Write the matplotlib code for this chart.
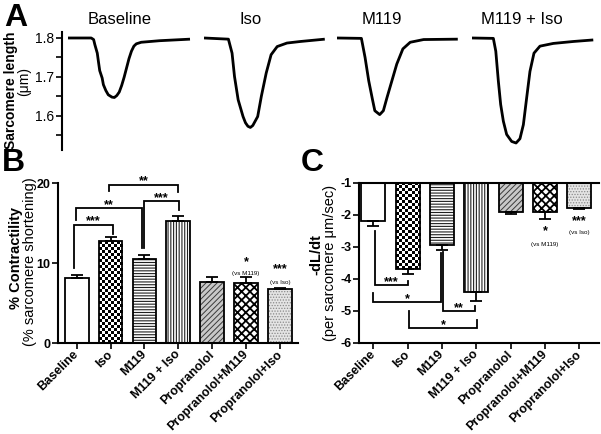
import numpy as np
import matplotlib.pyplot as plt

plt.rcParams['font.family'] = ['Liberation Sans', 'DejaVu Sans']

# ----- data: panel A, sarcomere length traces (time in s, length in um) -----
trace_names = ["Baseline", "Iso", "M119", "M119 + Iso"]

baseline_t = [0.0, 0.19, 0.21, 0.22, 0.24, 0.25, 0.26, 0.28, 0.29, 0.31, 0.33, 0.36, 0.38,
              0.40, 0.42, 0.44, 0.46, 0.48, 0.50, 0.52, 0.54, 0.56, 0.60, 0.75, 1.0]
baseline_len = [1.800, 1.800, 1.796, 1.783, 1.761, 1.738, 1.716, 1.697, 1.680, 1.665, 1.654,
                1.648, 1.647, 1.652, 1.661, 1.678, 1.699, 1.723, 1.747, 1.766, 1.779, 1.785,
                1.789, 1.793, 1.797]

iso_t = [0.0, 0.20, 0.23, 0.25, 0.28, 0.32, 0.34, 0.36, 0.38, 0.40, 0.44, 0.47, 0.51, 0.55,
         0.60, 0.68, 0.79, 0.99]
iso_len = [1.800, 1.797, 1.761, 1.701, 1.641, 1.598, 1.582, 1.573, 1.570, 1.575, 1.598, 1.650,
           1.710, 1.757, 1.778, 1.787, 1.791, 1.797]

m119_t = [0.0, 0.20, 0.23, 0.26, 0.29, 0.31, 0.35, 0.38, 0.41, 0.45, 0.49, 0.54, 0.60, 0.71, 0.99]
m119_len = [1.800, 1.799, 1.750, 1.690, 1.643, 1.613, 1.603, 1.613, 1.647, 1.690, 1.733, 1.772,
            1.789, 1.796, 1.797]

m119iso_t = [0.0, 0.175, 0.195, 0.216, 0.235, 0.257, 0.284, 0.325, 0.361, 0.393, 0.421, 0.448,
             0.475, 0.508, 0.557, 0.666, 0.830, 0.994]
m119iso_len = [1.800, 1.799, 1.766, 1.689, 1.629, 1.586, 1.552, 1.534, 1.530, 1.541, 1.577,
               1.646, 1.714, 1.761, 1.779, 1.786, 1.791, 1.795]

traces = [(baseline_t, baseline_len), (iso_t, iso_len), (m119_t, m119_len),
          (m119iso_t, m119iso_len)]

# ----- data: panels B and C -----
groups = ["Baseline", "Iso", "M119", "M119 + Iso", "Propranolol",
          "Propranolol+M119", "Propranolol+Iso"]
contract_mean = [8.1, 12.7, 10.5, 15.2, 7.6, 7.5, 6.7]
contract_sem = [0.4, 0.5, 0.5, 0.7, 0.7, 0.75, 0.2]
dldt_mean = [-2.20, -3.70, -2.93, -4.42, -1.91, -1.90, -1.79]
dldt_sem = [0.13, 0.14, 0.16, 0.27, 0.06, 0.24, 0.03]

# brackets: (left group, right group, left leg end, right leg end, bar level, label)
brackets_b = [(0, 1, 9.35, 13.6, 14.8, "***"),
              (0, 2, 15.4, 11.9, 16.9, "**"),
              (2, 3, 11.9, 16.6, 17.7, "***"),
              (1, 3, 19.0, 18.9, 19.8, "**")]
brackets_c = [(0, 1, -2.5, -4.07, -4.19, "***"),
              (0, 2, -4.45, -3.19, -4.71, "*"),
              (2, 3, -3.16, -4.85, -5.0, "**"),
              (1, 3, -5.0, -5.29, -5.53, "*")]
# small horizontal nudges of the bracket legs (layout only)
nudge_b = [(-0.08, 0.07), (-0.03, -0.08), (-0.01, 0.03), (-0.05, 0.0)]
nudge_c = [(0.04, 0.0), (-0.01, -0.03), (0.04, -0.04), (0.03, 0.02)]

# stars vs M119 / Iso over the propranolol bars: (group, star level, note level, stars, note)
notes_b = [(5, 10.6, 8.65, "*", "(vs M119)"), (6, 9.7, 7.6, "***", "(vs Iso)")]
notes_c = [(5, -2.39, -2.93, "*", "(vs M119)"), (6, -2.07, -2.54, "***", "(vs Iso)")]

# ----- styles -----
bar_styles = [
    dict(face="white", hatch=None, hc="black", hlw=1.0, checker=False),
    dict(face="white", hatch=None, hc="black", hlw=1.0, checker=True),
    dict(face="white", hatch="------", hc="#202020", hlw=0.8, checker=False),
    dict(face="white", hatch="||||||", hc="#202020", hlw=0.8, checker=False),
    dict(face="#c8c8c8", hatch="//////", hc="#3a3a3a", hlw=0.7, checker=False),
    dict(face="white", hatch="xxxx", hc="black", hlw=1.3, checker=False),
    dict(face="#e4e4e4", hatch="......", hc="#8a8a8a", hlw=0.6, checker=False),
]
W, H = 601, 434
LW = 1.3


def frac(left, top, right, bottom):
    return [left / W, 1 - bottom / H, (right - left) / W, (bottom - top) / H]


fig = plt.figure(figsize=(W / 100, H / 100), dpi=100)

# ----- panel A -----
trace_px = [(62, 193, 68), (204, 329, 204), (337, 462, 337), (472, 597, 472)]
title_px = [120, 251, 382, 522]
for k, ((t, L), (l, r, s)) in enumerate(zip(traces, trace_px)):
    ax = fig.add_axes(frac(l, 32, r, 150))
    ax.plot(t, L, color="black", lw=2.0, solid_joinstyle="round", solid_capstyle="butt")
    ax.set_xlim((l - s) / 122, (r - s) / 122)
    ax.set_ylim(1.512, 1.8154)
    for sp in ax.spines.values():
        sp.set_visible(False)
    ax.set_xticks([])
    if k == 0:
        ax.spines["left"].set_visible(True)
        ax.spines["left"].set_linewidth(1.5)
        ax.set_yticks([1.6, 1.7, 1.8])
        ax.set_yticks([1.55, 1.65, 1.75], minor=True)
        ax.tick_params(axis="y", which="both", length=4, width=1.2, labelsize=10, pad=2)
    else:
        ax.set_yticks([])
    fig.text(title_px[k] / W, 1 - 20 / H, trace_names[k], ha="center", va="center",
             fontsize=12)

fig.text(11 / W, 1 - 90 / H, "Sarcomere length", rotation=90, ha="center", va="center",
         fontsize=10, fontweight="bold")
fig.text(24 / W, 1 - 81 / H, "(\u03bcm)", rotation=90, ha="center", va="center",
         fontsize=10)


# ----- panels B and C -----
def draw_bars(ax, means, sems, base, down):
    x = np.arange(len(means))
    heights = np.array(means) - base
    for i in range(len(means)):
        st = bar_styles[i]
        with plt.rc_context({"hatch.linewidth": st["hlw"]}):
            b = ax.bar(x[i], heights[i], width=0.7, bottom=base, color=st["face"],
                       edgecolor=st["hc"], hatch=st["hatch"], linewidth=0, zorder=1)
        rect = b.patches[0]
        if hasattr(rect, "set_hatch_linewidth"):
            rect.set_hatch_linewidth(st["hlw"])
        if st["checker"]:
            p0 = ax.transData.transform((0, 0))
            p1 = ax.transData.transform((1, 1))
            nx = 8
            ny = max(1, int(round(abs(heights[i] * (p1[1] - p0[1])) / 3.0)))
            board = np.indices((ny, nx)).sum(axis=0) % 2
            x0 = rect.get_x()
            im = ax.imshow(board, cmap="gray", extent=(x0, x0 + 0.7, base, base + heights[i]),
                           aspect="auto", interpolation="nearest", zorder=1.5)
            im.set_clip_path(rect)
    ax.bar(x, heights, width=0.7, bottom=base, fill=False, edgecolor="black",
           linewidth=LW, zorder=3)
    zeros = np.zeros(len(sems))
    yerr = [sems, zeros] if down else [zeros, sems]
    ax.errorbar(x, means, yerr=yerr, fmt="none", ecolor="black", elinewidth=LW,
                capsize=4.3, capthick=LW, zorder=4)


def draw_brackets(ax, brackets, nudges):
    for (i, j, yl, yr, yline, lab), (dl, dr) in zip(brackets, nudges):
        xl, xr = i + dl, j + dr
        ax.plot([xl, xl, xr, xr], [yl, yline, yline, yr], color="black", lw=LW,
                clip_on=False, solid_joinstyle="miter", zorder=5)
        ax.text((xl + xr) / 2, yline, lab, ha="center", va="baseline", fontsize=9,
                fontweight="bold", zorder=5)


def draw_notes(ax, notes):
    for i, ystar, ynote, stars, note in notes:
        ax.annotate(stars, (i, ystar), xytext=(0, -3), textcoords="offset points",
                    ha="center", va="center", fontsize=9, fontweight="bold")
        ax.text(i, ynote, note, ha="center", va="center", fontsize=4.5)


def style_axes(ax):
    ax.set_xticks(range(len(groups)))
    ax.set_xticklabels(groups, rotation=45, ha="right", va="center",
                       rotation_mode="anchor", fontweight="bold", fontsize=9)
    ax.tick_params(axis="x", length=4, width=1.2, pad=3)
    ax.tick_params(axis="y", length=4, width=1.2, pad=1.5, labelsize=9)
    for lab in ax.get_yticklabels():
        lab.set_fontweight("bold")
    ax.spines["right"].set_visible(False)
    for sp in ax.spines.values():
        sp.set_linewidth(1.5)


# B
axb = fig.add_axes(frac(58, 183, 298, 343))
axb.set_xlim(-0.55, 6.53)
axb.set_ylim(0, 20)
axb.set_yticks([0, 10, 20])
axb.spines["top"].set_visible(False)
draw_bars(axb, contract_mean, contract_sem, 0, down=False)
draw_brackets(axb, brackets_b, nudge_b)
draw_notes(axb, notes_b)
style_axes(axb)
axb.set_xlim(-0.55, 6.53)
axb.set_ylim(0, 20)

fig.text(16 / W, 1 - 258 / H, "% Contractility", rotation=90, ha="center", va="center",
         fontsize=10.5, fontweight="bold")
fig.text(30 / W, 1 - 262 / H, "(% sarcomere shortening)", rotation=90, ha="center",
         va="center", fontsize=10.5)

# C
axc = fig.add_axes(frac(359, 183, 599, 343))
axc.set_xlim(-0.42, 6.57)
axc.set_ylim(-6, -1)
axc.set_yticks([-6, -5, -4, -3, -2, -1])
draw_bars(axc, dldt_mean, dldt_sem, -1, down=True)
draw_brackets(axc, brackets_c, nudge_c)
draw_notes(axc, notes_c)
style_axes(axc)
axc.set_yticklabels(["-6", "-5", "-4", "-3", "-2", "-1"], fontweight="bold")
axc.set_xlim(-0.42, 6.57)
axc.set_ylim(-6, -1)

fig.text(316 / W, 1 - 255 / H, "-dL/dt", rotation=90, ha="center", va="center",
         fontsize=10.5, fontweight="bold")
fig.text(330 / W, 1 - 263 / H, "(per sarcomere \u03bcm/sec)", rotation=90, ha="center",
         va="center", fontsize=10.5)

# panel letters
for lab, (px, py) in zip("ABC", [(4, 3), (2, 148), (301, 148)]):
    fig.text(px / W, 1 - py / H, lab, ha="left", va="top", fontsize=23, fontweight="bold")

fig.savefig("out.png", dpi=100)
